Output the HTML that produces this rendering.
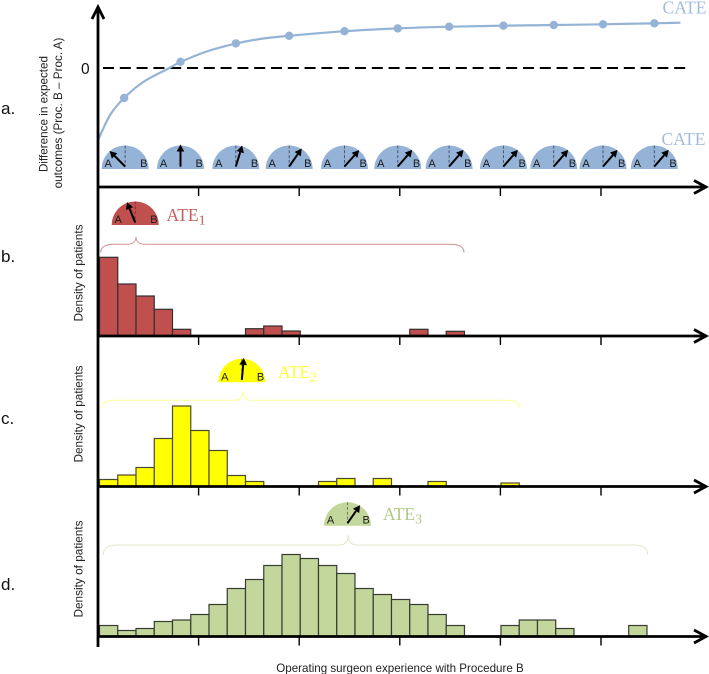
<!DOCTYPE html>
<html lang="en">
<head>
<meta charset="utf-8">
<title>Difference in expected outcomes by surgeon experience</title>
<style>
html,body{margin:0;padding:0;background:#fff;width:709px;height:674px;overflow:hidden}
svg{display:block}
text{font-family:"Liberation Sans",sans-serif}
.serif{font-family:"Liberation Serif",serif}
</style>
</head>
<body>
<svg id="chart" xmlns="http://www.w3.org/2000/svg" width="709" height="674" viewBox="0 0 709 674">
  <g id="panels"></g>

  <text x="1" y="114" font-size="17" fill="#111">a.</text>
  <text x="1" y="262" font-size="17" fill="#111">b.</text>
  <text x="1" y="424" font-size="17" fill="#111">c.</text>
  <text x="1" y="590" font-size="17" fill="#111">d.</text>

  <text x="81" y="74" font-size="15.5" fill="#111">0</text>

  <g font-size="11.7" fill="#222" text-anchor="middle">
    <text transform="translate(47.5,114) rotate(-90)">Difference in expected</text>
    <text transform="translate(62,113) rotate(-90)">outcomes (Proc. B – Proc. A)</text>
  </g>
  <text transform="translate(82.5,273) rotate(-90)" font-size="11.8" fill="#222" text-anchor="middle">Density of patients</text>
  <text transform="translate(82.5,414) rotate(-90)" font-size="11.8" fill="#222" text-anchor="middle">Density of patients</text>
  <text transform="translate(82.5,569) rotate(-90)" font-size="11.8" fill="#222" text-anchor="middle">Density of patients</text>
  <text x="400" y="672" font-size="11.6" fill="#222" text-anchor="middle">Operating surgeon experience with Procedure B</text>

  <text class="serif" x="662.5" y="13.5" font-size="17.6" fill="#a3bcdc">CATE</text>
  <text class="serif" x="661.5" y="145" font-size="17.6" fill="#a3bcdc">CATE</text>
  <text class="serif" x="166.5" y="221" font-size="17.5" fill="#c0605d">ATE<tspan font-size="14" dy="3.5">1</tspan></text>
  <text class="serif" x="278" y="378" font-size="17.5" fill="#ffff33">ATE<tspan font-size="14" dy="3.5">2</tspan></text>
  <text class="serif" x="383" y="520" font-size="17.5" fill="#afc986">ATE<tspan font-size="14" dy="3.5">3</tspan></text>
</svg>

<script>
// ---- Data ----
var tickValues = [0, 1, 2, 3, 4, 5];

var cateExperience = [0.26, 0.82, 1.37, 1.90, 2.45, 2.98, 3.49, 4.03, 4.53, 5.02, 5.53];
var cateEffect = [-3.0, 0.62, 2.46, 3.22, 3.68, 3.96, 4.13, 4.23, 4.30, 4.37, 4.47];
var gaugeAngles = [-45, 0, 17, 35, 42, 41, 41, 41, 41, 41, 41];

var lineExperience = [0, 0.12, 0.26, 0.45, 0.70, 0.82, 1.08, 1.37, 1.61, 1.90, 2.45, 2.98, 3.49, 4.03, 4.53, 5.02, 5.53, 5.79];
var lineEffect = [-7.2, -4.7, -3.0, -1.4, -0.05, 0.6, 1.65, 2.44, 2.9, 3.22, 3.68, 3.96, 4.13, 4.23, 4.30, 4.37, 4.47, 4.53];

var densityB = [78.7, 52, 40, 26.7, 6.7, 0, 0, 0, 7.3, 10, 5, 0, 0, 0, 0, 0, 0, 6.7, 0, 4.7];
var densityC = [7, 11.5, 19, 48, 80.5, 56, 36, 11, 5, 0, 0, 0, 5, 8, 0, 8, 0, 0, 5, 0, 0, 0, 3.5];
var densityD = [11, 6, 8, 15, 16.5, 22, 32, 48, 57, 71, 82, 78, 71, 63, 48, 42, 37, 32, 22, 11, 0, 0, 11, 16.5, 16.5, 8, 0, 0, 0, 11];

var ate1Experience = 0.37;
var ate1Angle = -22;
var ate2Experience = 1.43;
var ate2Angle = 5;
var ate3Experience = 2.48;
var ate3Angle = 35;

var binOrigin = 0.015;
var binWidth = 0.1814;

// ---- Axis functions ----
function xScale(v) { return 98 + v * 100.6; }
function yEffect(v) { return 68 - v * 10; }
function yDensity(baseline, v) { return baseline - v; }

var NS = 'http://www.w3.org/2000/svg';
var root = document.getElementById('panels');

function make(tag, parent, attrs) {
  var el = document.createElementNS(NS, tag);
  for (var k in attrs) { el.setAttribute(k, attrs[k]); }
  parent.appendChild(el);
  return el;
}

function smoothPath(xs, ys) {
  var d = 'M' + xs[0] + ',' + ys[0];
  for (var i = 0; i < xs.length - 1; i++) {
    var h = xs[i + 1] - xs[i];
    var m0 = i > 0 ? (ys[i + 1] - ys[i - 1]) / (xs[i + 1] - xs[i - 1]) : (ys[1] - ys[0]) / (xs[1] - xs[0]);
    var m1 = i < xs.length - 2 ? (ys[i + 2] - ys[i]) / (xs[i + 2] - xs[i]) : (ys[i + 1] - ys[i]) / h;
    d += 'C' + (xs[i] + h / 3) + ',' + (ys[i] + m0 * h / 3) + ' ' + (xs[i + 1] - h / 3) + ',' + (ys[i + 1] - m1 * h / 3) + ' ' + xs[i + 1] + ',' + ys[i + 1];
  }
  return d;
}

function drawBars(values, baseline, fill, stroke, name) {
  var g = make('g', root, {});
  
  
  values.forEach(function (v, i) {
    if (v <= 0) { return; }
    var x0 = xScale(binOrigin + i * binWidth);
    var x1 = xScale(binOrigin + (i + 1) * binWidth);
    var top = yDensity(baseline, v);
    var r = make('rect', g, { x: x0, y: top, width: x1 - x0, height: baseline - top, fill: fill, stroke: stroke, 'stroke-width': 1.2 });
    
    
  });
}

function drawGauge(cx, base, angle, fill, dash, name) {
  var g = make('g', root, {});
  
  
  make('path', g, { d: 'M' + (cx - 23.5) + ',' + base + 'A23.5,23.5 0 0 1 ' + (cx + 23.5) + ',' + base + 'Z', fill: fill });
  make('line', g, { x1: cx, y1: base - 23.5, x2: cx, y2: base - 2, stroke: dash, 'stroke-width': 0.9, 'stroke-dasharray': '3 1.8' });
  var a = make('text', g, { x: cx - 17, y: base - 2, 'font-size': 11, fill: '#1a1a1a', 'text-anchor': 'middle' });
  a.textContent = 'A';
  var b = make('text', g, { x: cx + 18.7, y: base - 2, 'font-size': 11, fill: '#1a1a1a', 'text-anchor': 'middle' });
  b.textContent = 'B';
  var rad = angle * Math.PI / 180;
  var sx = Math.sin(rad), cy = Math.cos(rad);
  var y0 = base - 2.5, len = 22;
  var tx = cx + sx * len, ty = y0 - cy * len;
  var nx = cx + sx * (len - 7), ny = y0 - cy * (len - 7);
  make('line', g, { x1: cx, y1: y0, x2: nx, y2: ny, stroke: '#000', 'stroke-width': 2 });
  make('polygon', g, {
    points: tx + ',' + ty + ' ' + (nx + cy * 3.8) + ',' + (ny + sx * 3.8) + ' ' + (nx - cy * 3.8) + ',' + (ny - sx * 3.8),
    fill: '#000'
  });
}

function drawBrace(x0, xm, x1, lineY, tipY, endY, color, name) {
  var d = 'M' + x0 + ',' + endY +
    'C' + x0 + ',' + (lineY + 2) + ' ' + (x0 + 6) + ',' + lineY + ' ' + (x0 + 14) + ',' + lineY +
    'L' + (xm - 9) + ',' + lineY +
    'C' + (xm - 3) + ',' + lineY + ' ' + xm + ',' + (lineY - 3) + ' ' + xm + ',' + tipY +
    'C' + xm + ',' + (lineY - 3) + ' ' + (xm + 3) + ',' + lineY + ' ' + (xm + 9) + ',' + lineY +
    'L' + (x1 - 14) + ',' + lineY +
    'C' + (x1 - 6) + ',' + lineY + ' ' + x1 + ',' + (lineY + 2) + ' ' + x1 + ',' + endY;
  var p = make('path', root, { d: d, fill: 'none', stroke: color, 'stroke-width': 1 });
  
  
}

// ---- Panel a: CATE curve and gauges ----
var zeroLine = make('line', root, { x1: 103, y1: yEffect(0), x2: 687, y2: yEffect(0), stroke: '#000', 'stroke-width': 2, 'stroke-dasharray': '11 5.8' });



var curve = make('path', root, { d: smoothPath(lineExperience.map(xScale), lineEffect.map(yEffect)), fill: 'none', stroke: '#95b3d7', 'stroke-width': 2.2 });



cateExperience.forEach(function (v, i) {
  var c = make('circle', root, { cx: xScale(v), cy: yEffect(cateEffect[i]), r: 4.2, fill: '#95b3d7' });
  
  
  drawGauge(xScale(v) + (i === 0 ? 1 : 0), 169, gaugeAngles[i], '#95b3d7', '#3f4d60', 'cate-gauge');
});

// ---- Panels b, c, d: histograms ----
drawBars(densityB, 336, '#c0504d', '#33302f', 'histogram-b');
drawBars(densityC, 486.5, '#ffff00', '#4a4a30', 'histogram-c');
drawBars(densityD, 636.5, '#c3d69b', '#363d30', 'histogram-d');

drawGauge(xScale(ate1Experience), 225, ate1Angle, '#c0504d', '#6e2f2d', 'ate1-gauge');
drawGauge(xScale(ate2Experience), 382.3, ate2Angle, '#ffff00', '#77772a', 'ate2-gauge');
drawGauge(xScale(ate3Experience), 525.7, ate3Angle, '#c3d69b', '#687555', 'ate3-gauge');

drawBrace(100.7, 136, 464, 244.3, 236.7, 252.5, '#d28f8d', 'ate1-brace');
drawBrace(100.7, 243, 520, 400.3, 390.7, 409, '#ffff99', 'ate2-brace');
drawBrace(103.3, 348.3, 647.7, 545, 535, 555, '#dfe8c8', 'ate3-brace');

// ---- Axes ----
var axisG = make('g', root, {});



var axisY = make('line', axisG, { x1: 98, y1: 8, x2: 98, y2: 647, stroke: '#000', 'stroke-width': 2.8 });



var axisHead = make('path', axisG, { d: 'M92,19L98,7L104,19', fill: 'none', stroke: '#000', 'stroke-width': 2.8 });



[187, 336, 486.5, 636.5].forEach(function (y) {
  var l = make('line', axisG, { x1: 98, y1: y, x2: 705, y2: y, stroke: '#000', 'stroke-width': 2.8 });
  
  
  var h = make('path', axisG, { d: 'M694,' + (y - 6.5) + 'L706,' + y + 'L694,' + (y + 6.5), fill: 'none', stroke: '#000', 'stroke-width': 2.8 });
  
  
  tickValues.forEach(function (t) {
    var tk = make('line', axisG, { x1: xScale(t), y1: y, x2: xScale(t), y2: y + 9, stroke: '#000', 'stroke-width': 1.4 });
    
    
  });
});
</script>
</body>
</html>
